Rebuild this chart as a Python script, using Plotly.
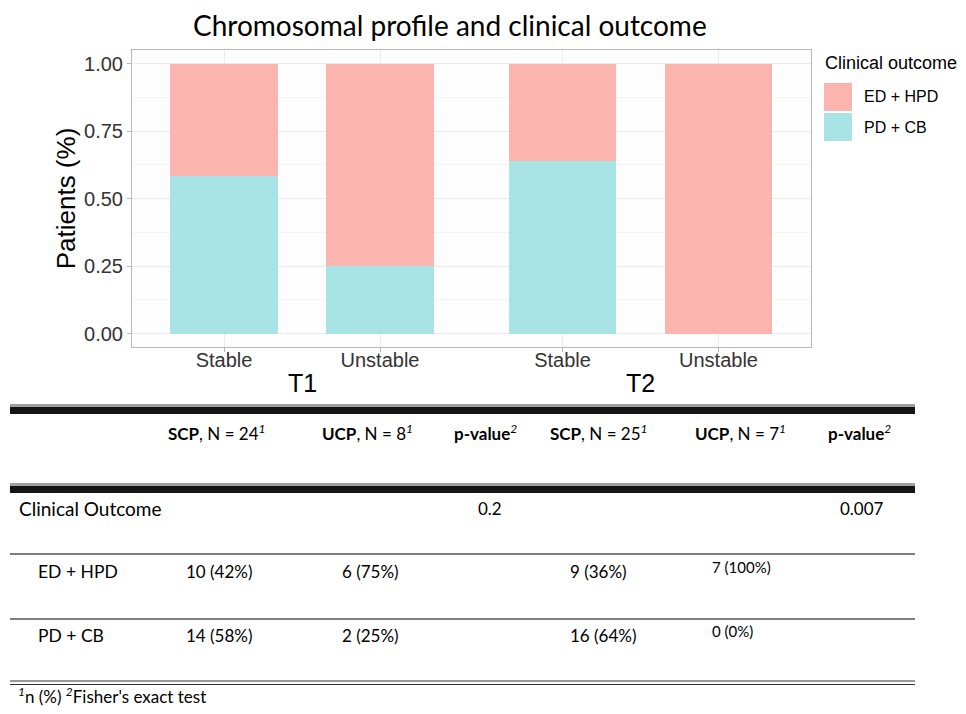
import plotly.graph_objects as go

# ---------------- data ----------------
timepoints = ["T1", "T2"]
profiles = ["Stable", "Unstable"]
ed_hpd_n = [10, 6, 9, 7]     # T1 Stable, T1 Unstable, T2 Stable, T2 Unstable
pd_cb_n = [14, 2, 16, 0]
group_n = [24, 8, 25, 7]
p_values = ["0.2", "0.007"]
header_groups = ["SCP", "UCP"]
outcomes = ["ED + HPD", "PD + CB"]

COL_ED = "#FBB4AE"
COL_PD = "#A8E4E5"

W, H = 966, 714
def px(x): return x / W
def py(y): return 1 - y / H

GROUP_GAP = 0.17
positions = []
for gi, _ in enumerate(timepoints):
    for ci, _ in enumerate(profiles):
        positions.append(gi * (len(profiles) + GROUP_GAP) + ci)
ticklabels = [p for _ in timepoints for p in profiles]

pd_frac = [p / n for p, n in zip(pd_cb_n, group_n)]
ed_frac = [e / n for e, n in zip(ed_hpd_n, group_n)]

fig = go.Figure()
fig.add_trace(go.Bar(x=positions, y=pd_frac, width=0.692, name=outcomes[1],
                     marker=dict(color=COL_PD, line=dict(width=0)), showlegend=False))
fig.add_trace(go.Bar(x=positions, y=ed_frac, width=0.692, name=outcomes[0],
                     marker=dict(color=COL_ED, line=dict(width=0)), showlegend=False))

AX_FONT = "Liberation Sans, Arial, sans-serif"
TB_FONT = "Lato, sans-serif"

fig.update_layout(
    width=W, height=H, margin=dict(l=0, r=0, t=0, b=0),
    barmode="stack", bargap=0,
    paper_bgcolor="white", plot_bgcolor="#FDFDFD",
    showlegend=False,
    xaxis=dict(domain=[px(132), px(811)], range=[-0.59, 3.763],
               tickvals=positions, ticktext=ticklabels,
               tickfont=dict(family=AX_FONT, size=20, color="#333333"),
               ticklabelstandoff=-9,
               showgrid=True, gridcolor="#EBEBEB", gridwidth=1,
               showline=True, mirror=True, linecolor="#B8B8B8", linewidth=1,
               ticks="outside", ticklen=4, tickcolor="#B8B8B8", zeroline=False),
    yaxis=dict(domain=[py(347), py(50)], range=[-0.05, 1.05],
               tickvals=[0, 0.25, 0.5, 0.75, 1.0],
               ticktext=["0.00", "0.25", "0.50", "0.75", "1.00"],
               tickfont=dict(family=AX_FONT, size=20, color="#333333"),
               showgrid=True, gridcolor="#EBEBEB", gridwidth=1,
               minor=dict(dtick=0.125, tick0=0, showgrid=True, gridcolor="#F4F4F4"),
               showline=True, mirror=True, linecolor="#B8B8B8", linewidth=1,
               ticks="outside", ticklen=4, tickcolor="#B8B8B8", zeroline=False,
               title=dict(text="Patients (%)", font=dict(family=AX_FONT, size=26, color="black"),
                          standoff=0)),
)

ann = []
shapes = []

# title
ann.append(dict(text="Chromosomal profile and clinical outcome", x=px(450), y=py(25),
                xref="paper", yref="paper", xanchor="center", yanchor="middle",
                showarrow=False, font=dict(family=TB_FONT, size=28, color="black")))

# timepoint labels
for gi, t in enumerate(timepoints):
    xs = positions[gi * len(profiles):(gi + 1) * len(profiles)]
    ann.append(dict(text=t, x=sum(xs) / len(xs), y=py(383), xref="x", yref="paper",
                    xanchor="center", yanchor="middle", showarrow=False,
                    font=dict(family=AX_FONT, size=25, color="black")))

# legend (manual)
ann.append(dict(text="Clinical outcome", x=px(823), y=py(63), xref="paper", yref="paper",
                xanchor="left", yanchor="middle", showarrow=False,
                font=dict(family=AX_FONT, size=18, color="black")))
for i, (lab, col) in enumerate(zip(outcomes, [COL_ED, COL_PD])):
    y0 = 83 + i * 30
    shapes.append(dict(type="rect", xref="paper", yref="paper", x0=px(824), x1=px(852),
                       y0=py(y0), y1=py(y0 + 28), fillcolor=col, line=dict(width=0)))
    ann.append(dict(text=lab, x=px(862), y=py(y0 + 14), xref="paper", yref="paper",
                    xanchor="left", yanchor="middle", showarrow=False,
                    font=dict(family=AX_FONT, size=16, color="black")))

# ---------------- table ----------------
TX0, TX1 = 10, 915
def thick(y):
    shapes.append(dict(type="rect", xref="paper", yref="paper", x0=px(TX0), x1=px(TX1),
                       y0=py(y), y1=py(y + 3), fillcolor="#A0A0A0", line=dict(width=0)))
    shapes.append(dict(type="rect", xref="paper", yref="paper", x0=px(TX0), x1=px(TX1),
                       y0=py(y + 3), y1=py(y + 10), fillcolor="#151515", line=dict(width=0)))
def thin(y, w=1.5, c="#555555"):
    shapes.append(dict(type="line", xref="paper", yref="paper", x0=px(TX0), x1=px(TX1),
                       y0=py(y), y1=py(y), line=dict(color=c, width=w)))

thick(404)
thick(483)
thin(554)
thin(619)
thin(681, 1, "#333333")
thin(684.5, 1, "#333333")

def txt(s, x, y, size=17, anchor="left"):
    ann.append(dict(text=s, x=px(x), y=py(y), xref="paper", yref="paper",
                    xanchor=anchor, yanchor="middle", showarrow=False,
                    font=dict(family=TB_FONT, size=size, color="black")))

# header
col_x = [[166, 320, 452], [548, 693, 826]]
for ti in range(len(timepoints)):
    for ci, g in enumerate(header_groups):
        n = group_n[ti * len(profiles) + ci]
        txt(f"<b>{g}</b>, N = {n}<sup><i>1</i></sup>", col_x[ti][ci], 433)
    txt("<b>p-value</b><sup><i>2</i></sup>", col_x[ti][2], 433)

# clinical outcome row
txt("Clinical Outcome", 17, 508, size=19)
pval_x = [490, 862]
for ti, p in enumerate(p_values):
    txt(p, pval_x[ti], 508, anchor="center")

# outcome rows
val_x = [184, 340, 568, 710]
row_y = [571, 635]
counts = [ed_hpd_n, pd_cb_n]
for ri, lab in enumerate(outcomes):
    txt(lab, 36, row_y[ri], size=17.5)
    for k in range(len(group_n)):
        n = counts[ri][k]
        pct = round(100 * n / group_n[k])
        small = (k == 3)
        txt(f"{n} ({pct}%)", val_x[k], row_y[ri] - (4 if small else 0), size=15 if small else 17)

# footnote
txt("<sup><i>1</i></sup>n (%) <sup><i>2</i></sup>Fisher's exact test", 16, 695, size=17)

fig.update_layout(annotations=ann, shapes=shapes)
fig.write_html("out.html")
